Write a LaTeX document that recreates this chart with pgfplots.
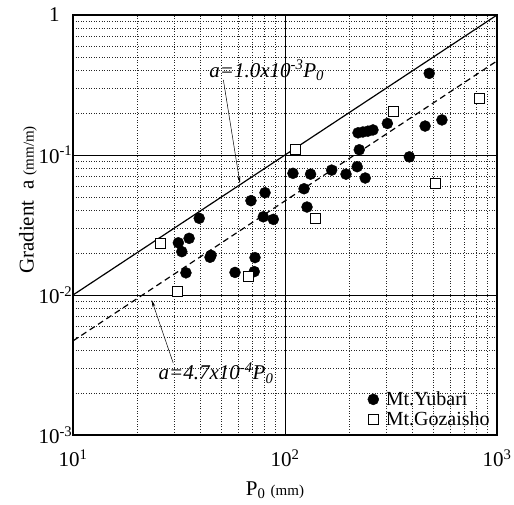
\documentclass[border=0pt]{standalone}
\usepackage{fontspec}
\setmainfont{Liberation Serif}
\usepackage{pgfplots}
\pgfplotsset{compat=1.18}
\usetikzlibrary{arrows.meta}
\begin{document}
\begin{tikzpicture}
\begin{loglogaxis}[
  scale only axis, width=424pt, height=420pt,
  xmin=10, xmax=1000, ymin=0.001, ymax=1,
  grid=both,
  major grid style={black, line width=0.6pt},
  minor grid style={black!85, line width=0.55pt, dash pattern=on 0.8pt off 1.8pt},
  major tick length=0pt, minor tick length=0pt,
  axis line style={line width=1.1pt},
  xtick={10,100,1000},
  xticklabels={10\textsuperscript{1},10\textsuperscript{2},10\textsuperscript{3}},
  ytick={0.001,0.01,0.1,1},
  yticklabels={10\textsuperscript{-3},10\textsuperscript{-2},10\textsuperscript{-1},1\hphantom{\textsuperscript{-1}}},
  ticklabel style={font=\fontsize{21}{23}\selectfont},
  xticklabel style={yshift=-11pt},
  yticklabel style={inner xsep=0.5pt},
  legend style={at={(0.995,0.008)}, anchor=south east, draw=none, fill=none,
    font=\fontsize{20}{22}\selectfont, row sep=1pt, column sep=5pt},
  legend cell align=left,
]
\addplot[black, line width=1.2pt, forget plot] coordinates {(10,0.01) (1000,1)};
\addplot[black, line width=1.2pt, dash pattern=on 6pt off 4pt, forget plot] coordinates {(10,0.0047) (1000,0.47)};
\addplot[only marks, mark=*, mark size=5.5pt, black, mark options={fill=black}] coordinates {
(479,0.383)(550,0.178)(458,0.161)(304,0.168)(221,0.144)(233,0.146)(246,0.148)(260,0.151)
(224,0.109)(386,0.097)(109,0.074)(132,0.073)(166,0.078)(194,0.073)(219,0.0825)(239,0.0685)
(123,0.0574)(127,0.0425)(69.1,0.0472)(80.5,0.0538)(79,0.0362)(88.1,0.0347)(39.4,0.0353)
(31.4,0.0236)(35.3,0.0254)(32.6,0.0204)(44.3,0.0186)(44.8,0.0192)(34.1,0.0144)(72.2,0.0185)
(58.1,0.0145)(71.6,0.0147)};
\addlegendentry{Mt.Yubari}
\addplot[only marks, mark=square*, mark size=5pt, black, line width=1pt, mark options={fill=white}] coordinates {
(831,0.252)(324,0.203)(111.5,0.1086)(515,0.0628)(140,0.0353)(25.9,0.0234)(67.1,0.0135)(31.2,0.01056)};
\addlegendentry{Mt.Gozaisho}
\node[font=\fontsize{21}{23}\selectfont\itshape] at (axis cs:82,0.4046) {a=1.0x10\textsuperscript{-3}P\textsubscript{0}};
\node[font=\fontsize{21}{23}\selectfont\itshape] at (axis cs:47.3,0.002773) {a=4.7x10\textsuperscript{-4}P\textsubscript{0}};
\draw[-{Stealth[length=7pt,width=3pt]}, line width=0.5pt] (axis cs:51.2,0.3435) -- (axis cs:61.3,0.0628);
\draw[-{Stealth[length=7pt,width=3pt]}, line width=0.5pt] (axis cs:29.7,0.003268) -- (axis cs:23.5,0.00921);
\end{loglogaxis}
\node[rotate=90, font=\fontsize{21}{23}\selectfont] at (-45pt,235pt) {Gradient\ \ a {\fontsize{15}{17}\selectfont (mm/m)}};
\node[font=\fontsize{21}{23}\selectfont] at (202pt,-55pt) {P\textsubscript{0} {\fontsize{15}{17}\selectfont (mm)}};
\pgfresetboundingbox
\useasboundingbox (-73pt,-69pt) rectangle (441pt,435pt);
\end{tikzpicture}
\end{document}
